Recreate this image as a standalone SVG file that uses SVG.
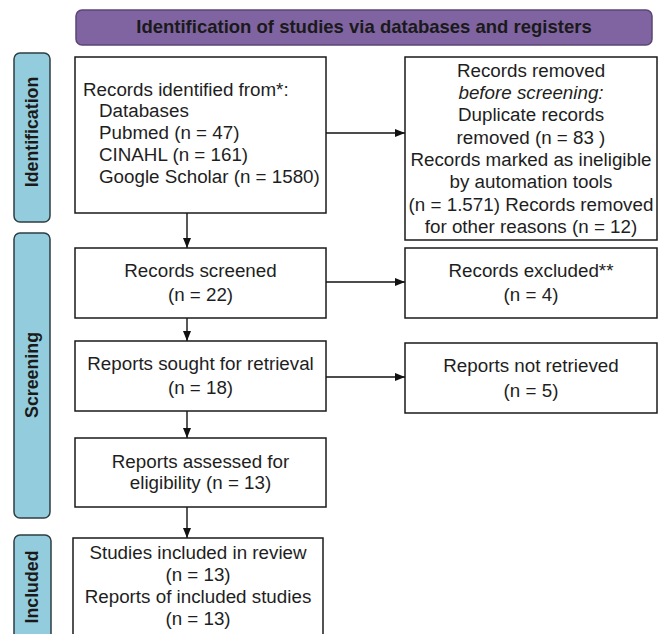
<svg xmlns="http://www.w3.org/2000/svg" width="662" height="634" viewBox="0 0 662 634">
<defs>
<marker id="ah" markerWidth="10" markerHeight="8" refX="10" refY="4" orient="auto" markerUnits="userSpaceOnUse">
<path d="M0,0 L10,4 L0,8 Z" fill="#111"/>
</marker>
<style>
.box{fill:#fff;stroke:#1a1a1a;stroke-width:1.5}
.side{fill:#93cddd;stroke:#2f3e44;stroke-width:1.5}
.t{font-family:"Liberation Sans",Arial,sans-serif;font-size:18.8px;fill:#1e1e1e}
.c{text-anchor:middle}
.b{font-weight:bold;fill:#1a1a1a;font-size:18.5px}
.sl{font-family:"Liberation Sans",Arial,sans-serif;font-size:17.8px;font-weight:bold;fill:#1a1a1a;text-anchor:middle}
.con{stroke:#111;stroke-width:1.4;fill:none;marker-end:url(#ah)}
</style>
</defs>
<rect width="662" height="634" fill="#fff"/>

<g id="title">
<rect x="76" y="10" width="576" height="35" rx="6" fill="#8064a2" stroke="#5a4675" stroke-width="1.5"/>
<text class="t b c" x="364" y="33">Identification of studies via databases and registers</text>
</g>

<g id="side-identification">
<rect class="side" x="14" y="53" width="36" height="169" rx="6"/>
<text class="sl" transform="translate(38,132) rotate(-90)">Identification</text>
</g>
<g id="side-screening">
<rect class="side" x="14" y="233" width="36" height="285" rx="6"/>
<text class="sl" transform="translate(38,375) rotate(-90)">Screening</text>
</g>
<g id="side-included">
<rect class="side" x="14" y="535" width="37" height="115" rx="6"/>
<text class="sl" transform="translate(38,587) rotate(-90)">Included</text>
</g>

<g id="connectors">
<line class="con" x1="326" y1="133" x2="405" y2="133"/>
<line class="con" x1="326" y1="282" x2="405" y2="282"/>
<line class="con" x1="326" y1="377" x2="405" y2="377"/>
<line class="con" x1="187" y1="213" x2="187" y2="248"/>
<line class="con" x1="187" y1="318" x2="187" y2="341"/>
<line class="con" x1="187" y1="411" x2="187" y2="438"/>
<line class="con" x1="187" y1="507" x2="187" y2="538"/>
</g>

<g id="records-identified">
<rect class="box" x="75" y="57" width="251" height="156"/>
<text class="t" x="83" y="95.5">Records identified from*:</text>
<text class="t" x="99" y="117.4">Databases</text>
<text class="t" x="99" y="139.3">Pubmed (n = 47)</text>
<text class="t" x="99" y="161.2">CINAHL (n = 161)</text>
<text class="t" x="99" y="183.1">Google Scholar (n = 1580)</text>
</g>

<g id="records-removed">
<rect class="box" x="405" y="57" width="252" height="183"/>
<text class="t c" x="531" y="76.7">Records removed</text>
<text class="t c" x="531" y="99" font-style="italic">before screening:</text>
<text class="t c" x="531" y="121.3">Duplicate records</text>
<text class="t c" x="531" y="143.6">removed (n = 83 )</text>
<text class="t c" x="531" y="165.9">Records marked as ineligible</text>
<text class="t c" x="531" y="188.2">by automation tools</text>
<text class="t c" x="531" y="210.5">(n = 1.571) Records removed</text>
<text class="t c" x="531" y="232.8">for other reasons (n = 12)</text>
</g>

<g id="records-screened">
<rect class="box" x="75" y="248" width="251" height="70"/>
<text class="t c" x="200.5" y="277">Records screened</text>
<text class="t c" x="200.5" y="301">(n = 22)</text>
</g>

<g id="records-excluded">
<rect class="box" x="405" y="248" width="252" height="70"/>
<text class="t c" x="531" y="277">Records excluded**</text>
<text class="t c" x="531" y="301">(n = 4)</text>
</g>

<g id="reports-sought">
<rect class="box" x="75" y="341" width="251" height="70"/>
<text class="t c" x="200.5" y="370">Reports sought for retrieval</text>
<text class="t c" x="200.5" y="394">(n = 18)</text>
</g>

<g id="reports-not-retrieved">
<rect class="box" x="405" y="343" width="252" height="70"/>
<text class="t c" x="531" y="372">Reports not retrieved</text>
<text class="t c" x="531" y="397">(n = 5)</text>
</g>

<g id="reports-assessed">
<rect class="box" x="75" y="438" width="251" height="69"/>
<text class="t c" x="200.5" y="468">Reports assessed for</text>
<text class="t c" x="200.5" y="489">eligibility (n = 13)</text>
</g>

<g id="studies-included">
<rect class="box" x="73" y="538" width="250" height="110"/>
<text class="t c" x="198" y="559">Studies included in review</text>
<text class="t c" x="198" y="581">(n = 13)</text>
<text class="t c" x="198" y="603">Reports of included studies</text>
<text class="t c" x="198" y="625">(n = 13)</text>
</g>
</svg>
